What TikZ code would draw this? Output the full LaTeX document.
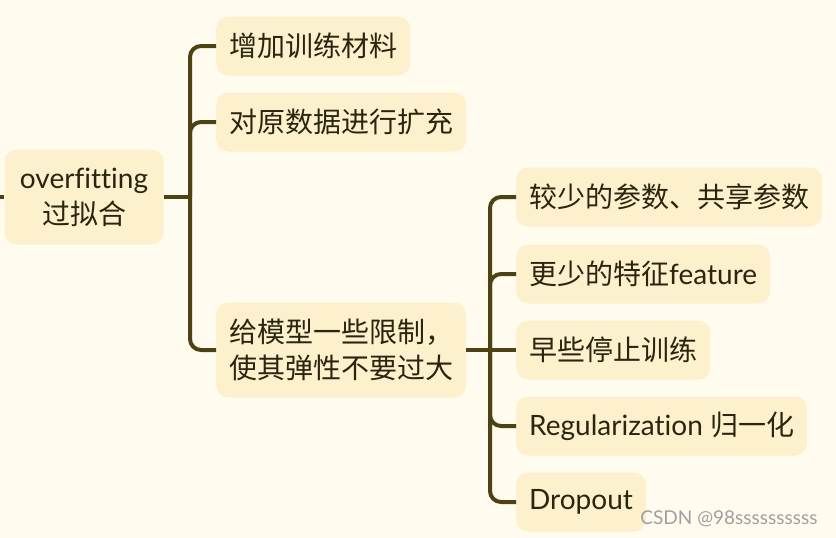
\documentclass[tikz,border=0pt]{standalone}
\usepackage{fontspec}
\setmainfont{Lato}[Ligatures=NoCommon]
\newfontfamily\cjk{Noto Sans CJK SC}
\usetikzlibrary{positioning}
\definecolor{paper}{HTML}{FFFCEF}
\definecolor{topicfill}{HTML}{FCF1CC}
\definecolor{branchline}{HTML}{4E4114}
\definecolor{topictext}{HTML}{2B2510}

\begin{document}
\begin{tikzpicture}[
    x=1pt, y=-1pt,
    topic/.style={fill=topicfill, rounded corners=12pt, align=left, anchor=west, minimum height=59pt, inner xsep=13pt, inner ysep=12pt, text=topictext, font=\fontsize{28}{36}\selectfont},
    branch/.style={draw=branchline, line width=4pt, rounded corners=11pt}
  ]
    \useasboundingbox[fill=paper] (0,0) rectangle (836,538);

    \node[topic, align=center, anchor=center, minimum width=159pt, minimum height=95pt] (root) at (84,197) {overfitting\\{\cjk 过拟合}};

    \node[topic] (more) at (216,46) {\cjk 增加训练材料};
    \node[topic] (augment) at (216,122) {\cjk 对原数据进行扩充};
    \node[topic, minimum height=95pt] (limit) at (216,350) {\cjk 给模型一些限制，\\\cjk 使其弹性不要过大};

    \node[topic] (fewer) at (516,197) {\cjk 较少的参数、共享参数};
    \node[topic] (feature) at (516,274) {{\cjk 更少的特征}feature};
    \node[topic] (early) at (516,350) {\cjk 早些停止训练};
    \node[topic] (regular) at (516,426) {Regularization {\cjk 归一化}};
    \node[topic] (dropout) at (516,502) {Dropout};

    \node[text=gray!75, anchor=east, font=\fontsize{19}{19}\selectfont] (mark) at (821,519) {CSDN @98ssssssssss};

    \coordinate (stub) at (0,197);
    \coordinate (hub) at (190,197);
    \coordinate (subhub) at (490,350);

    \draw[branch] (stub) -- (root);
    \draw[branch] (root) -- (hub);
    \foreach \t in {more,augment,limit}
      \draw[branch] (hub) |- (\t.west);

    \draw[branch] (limit) -- (early);
    \foreach \t in {fewer,feature,regular,dropout}
      \draw[branch] (subhub) |- (\t.west);
  \end{tikzpicture}
\end{document}
